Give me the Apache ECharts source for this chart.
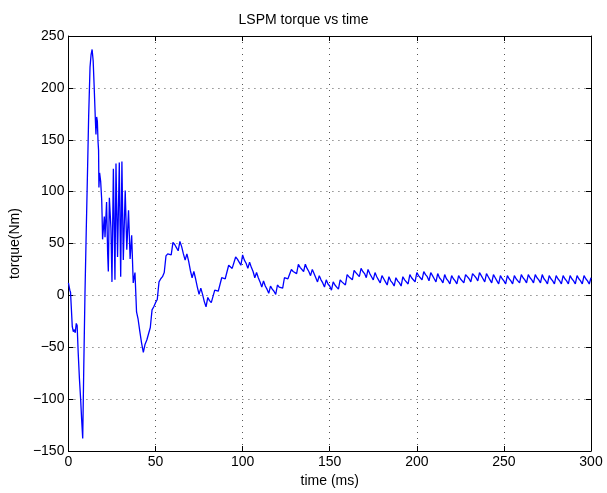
<!DOCTYPE html>
<html>
<head>
<meta charset="utf-8">
<script src="https://cdn.jsdelivr.net/npm/echarts@6/dist/echarts.min.js"></script>
<style>
html,body{margin:0;padding:0;background:#fff;}
#chart{width:607px;height:493px;}
</style>
</head>
<body>
<div id="chart"></div>
<script>
// ---- Data ----
var chartTitle = 'LSPM torque vs time';
var xName = 'time (ms)';
var yName = 'torque(Nm)';
var xTicks = [0, 50, 100, 150, 200, 250, 300];
var yTicks = [-150, -100, -50, 0, 50, 100, 150, 200, 250];

// start-up transient (ms, Nm)
var timeEarly = [0, 0.4, 0.8, 1.2, 1.6, 2.2, 2.8, 3.4, 3.9, 4.5, 5.0, 5.6, 6.3, 7.0, 7.6, 8.2, 8.8, 9.5,
  10.2, 11.0, 11.6, 12.4, 13.0, 13.6, 14.2, 14.8, 15.4, 15.8, 16.2, 16.6, 17.0, 17.3, 17.5, 17.9, 18.5,
  19.1, 19.3, 19.6, 20.6, 21.0, 21.9, 22.5, 22.9, 23.5, 24.4, 25.0, 25.8, 26.7, 27.3, 28.2, 29.2, 30.0,
  30.7, 31.5, 32.6, 33.5, 34.5, 35.4, 36.3, 37.2, 38.2, 39.1];
var torqueEarly = [12, 11, 5, 3, -10, -30, -35, -33, -36, -27, -29, -55, -80, -100, -120, -138, -70, 2,
  60, 123, 172, 220, 232, 237, 226, 200, 172, 155, 172, 168, 148, 140, 104, 118, 110,
  92, 79, 54, 76, 56, 90, 41, 23, 94, 65, 13, 122, 15, 127, 37, 128, 18,
  129, 34, 101, 44, 82, 35, 58, 12, 22, -16];

// settling part, one sample per ms from 40 ms to 300 ms
var timeLateStart = 40;
var torqueLate = [
  -23, -35, -46, -55, -47, -43, -37, -31, -14, -11, -7, -4, 13, 16, 18, 22, 38, 40, 40, 39,   // 40-59
  51, 49, 46, 43, 52, 47, 40, 34, 40, 33, 24, 17, 23, 16, 8, 1, 7, 1, -6, -11,               // 60-79
  -2, -5, -7, -8, 5, 5, 4, 4, 17, 17, 16, 16, 29, 28, 26, 25, 37, 35, 32, 29,                 // 80-99
  39, 34, 31, 26, 32, 27, 23, 17, 22, 17, 13, 8, 14, 9, 6, 2, 9, 6, 4, 1,                     // 100-119
  10, 8, 8, 7, 17, 16, 16, 15, 25, 23, 23, 21, 30, 27, 26, 23, 30, 26, 23, 19,                // 120-139
  25, 21, 17, 13, 19, 15, 12, 8, 15, 11, 9, 5, 13, 10, 8, 6, 15, 13, 12, 10,                  // 140-159
  20, 18, 17, 15, 24, 22, 20, 18, 26, 23, 21, 17, 25, 21, 18, 15, 22, 18, 15, 12,             // 160-179
  19, 16, 13, 10, 18, 14, 12, 9, 17, 14, 12, 9, 18, 15, 14, 11, 20, 17, 16, 13,               // 180-199
  22, 19, 17, 15, 23, 20, 18, 14, 22, 19, 16, 13, 21, 17, 15, 12, 20, 16, 14, 11,             // 200-219
  19, 16, 14, 11, 19, 16, 15, 12, 20, 18, 16, 13, 21, 19, 17, 14, 22, 19, 16, 13,             // 220-239
  21, 18, 15, 12, 20, 17, 14, 11, 19, 16, 14, 11, 19, 16, 14, 11, 19, 16, 14, 12,             // 240-259
  20, 17, 15, 12, 20, 17, 15, 12, 20, 17, 15, 12, 20, 16, 14, 11, 19, 16, 14, 11,             // 260-279
  19, 16, 14, 11, 19, 16, 14, 11, 19, 16, 14, 11, 19, 16, 14, 11, 19, 16, 14, 11,             // 280-299
  17                                                                                           // 300
];

// ---- Build series data ----
var seriesData = [];
for (var i = 0; i < timeEarly.length; i++) seriesData.push([timeEarly[i], torqueEarly[i]]);
for (var j = 0; j < torqueLate.length; j++) seriesData.push([timeLateStart + j, torqueLate[j]]);

var FONT = 'Liberation Sans, Arial, Helvetica, sans-serif';
var gridLine = { show: true, lineStyle: { color: '#555', width: 1, type: [1, 5] } };
var tickStyle = { show: true, inside: true, length: 5, lineStyle: { color: '#000', width: 1 } };
var axisLineStyle = { show: true, onZero: false, lineStyle: { color: '#000', width: 1 } };
function minusFmt(v) { return String(v).replace('-', '\u2212'); }

var chart = echarts.init(document.getElementById('chart'), null, { renderer: 'canvas' });
chart.setOption({
  animation: false,
  backgroundColor: '#fff',
  title: {
    text: chartTitle, left: 'center', top: 8,
    textStyle: { fontFamily: FONT, fontSize: 14, fontWeight: 'normal', color: '#000' }
  },
  grid: { left: 68, right: 16, top: 36, bottom: 42, containLabel: false },
  xAxis: [{
    type: 'value', min: xTicks[0], max: xTicks[xTicks.length - 1], interval: 50,
    name: xName, nameLocation: 'middle', nameGap: 23,
    nameTextStyle: { fontFamily: FONT, fontSize: 14, color: '#000' },
    axisLine: axisLineStyle, axisTick: tickStyle, splitLine: gridLine,
    axisLabel: { fontFamily: FONT, fontSize: 14, color: '#000', margin: 4, formatter: minusFmt }
  }, {
    type: 'value', position: 'top', min: xTicks[0], max: xTicks[xTicks.length - 1], interval: 50,
    axisLine: axisLineStyle, axisTick: tickStyle, splitLine: { show: false }, axisLabel: { show: false }
  }],
  yAxis: [{
    type: 'value', min: yTicks[0], max: yTicks[yTicks.length - 1], interval: 50,
    name: yName, nameLocation: 'middle', nameGap: 44,
    nameTextStyle: { fontFamily: FONT, fontSize: 14, color: '#000' },
    axisLine: axisLineStyle, axisTick: tickStyle, splitLine: gridLine,
    axisLabel: { fontFamily: FONT, fontSize: 14, color: '#000', margin: 4, formatter: minusFmt }
  }, {
    type: 'value', position: 'right', min: yTicks[0], max: yTicks[yTicks.length - 1], interval: 50,
    axisLine: axisLineStyle, axisTick: tickStyle, splitLine: { show: false }, axisLabel: { show: false }
  }],
  series: [{
    type: 'line', xAxisIndex: 0, yAxisIndex: 0,
    data: seriesData, showSymbol: false, symbol: 'none', smooth: false, sampling: null,
    lineStyle: { color: '#0000ff', width: 1.3 }
  }]
});
</script>
</body>
</html>
